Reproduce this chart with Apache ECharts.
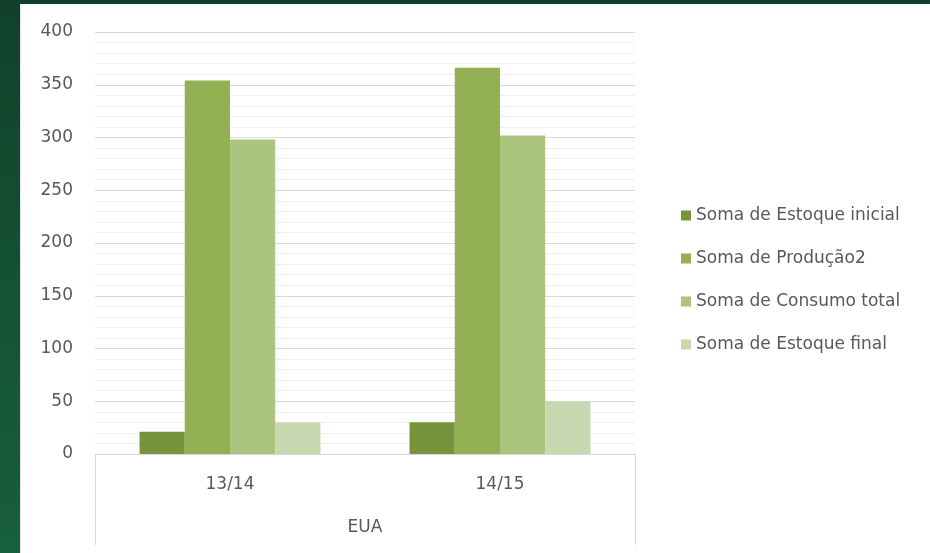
<!DOCTYPE html>
<html>
<head>
<meta charset="utf-8">
<script src="https://cdn.jsdelivr.net/npm/echarts@6/dist/echarts.min.js"></script>
<style>
  html, body {
    margin: 0;
    padding: 0;
    width: 930px;
    height: 553px;
    overflow: hidden;
    background: linear-gradient(180deg, #11402a 0%, #145234 50%, #175f3d 100%);
  }
  #main {
    position: absolute;
    left: 20px;
    top: 4px;
    width: 910px;
    height: 549px;
    background: #fff;
    border-left: 1px solid #e6e6e6;
    box-sizing: border-box;
  }
</style>
</head>
<body>
<div id="main"></div>
<script>
const categories = ["13/14", "14/15"];
const regions = ["EUA"];
const seriesNames = [
  "Soma de Estoque inicial",
  "Soma de Produção2",
  "Soma de Consumo total",
  "Soma de Estoque final"
];
const estoqueInicial = [21, 30];
const producao = [354, 366];
const consumo = [298, 302];
const estoqueFinal = [30, 50];
const colors = ["#77933c", "#93b152", "#abc57f", "#c8d8b0"];

const font = "'DejaVu Sans', sans-serif";
const textColor = "#595959";

const chart = echarts.init(document.getElementById("main"));

const values = [estoqueInicial, producao, consumo, estoqueFinal];

chart.setOption({
  animation: false,
  color: colors,
  grid: { left: 74, right: 295, top: 28, bottom: 99, containLabel: false },
  legend: {
    orient: "vertical",
    left: 655,
    top: 198,
    itemWidth: 10,
    itemHeight: 10,
    itemGap: 26,
    icon: "rect",
    textStyle: { fontFamily: font, fontSize: 17, color: textColor },
    data: seriesNames
  },
  xAxis: [
    {
      type: "category",
      data: categories,
      axisLine: { show: true, lineStyle: { color: "#d9d9d9" } },
      axisTick: { show: false },
      axisLabel: { fontFamily: font, fontSize: 17, color: textColor, margin: 22 }
    },
    {
      type: "category",
      data: regions,
      position: "bottom",
      offset: 0,
      axisLine: { show: false },
      axisTick: { show: true, length: 91, lineStyle: { color: "#d9d9d9" } },
      axisLabel: { fontFamily: font, fontSize: 17, color: textColor, margin: 65 }
    }
  ],
  yAxis: {
    type: "value",
    min: 0,
    max: 400,
    interval: 50,
    axisLine: { show: false },
    axisTick: { show: false },
    axisLabel: { fontFamily: font, fontSize: 17, color: textColor, margin: 22 },
    splitLine: { lineStyle: { color: "#d9d9d9" } },
    minorTick: { show: false, splitNumber: 5 },
    minorSplitLine: { show: true, lineStyle: { color: "#efefef" } }
  },
  series: seriesNames.map((name, i) => ({
    name: name,
    type: "bar",
    xAxisIndex: 0,
    data: values[i],
    barGap: "0%",
    barCategoryGap: "33%"
  }))
});
</script>
</body>
</html>
